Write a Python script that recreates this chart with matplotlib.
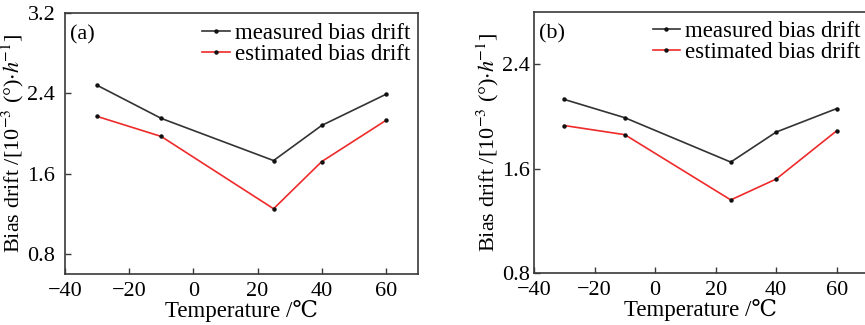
#!/usr/bin/env python3
"""
Bias drift vs temperature, measured and estimated, two panels (a) and (b).
"""

import matplotlib
matplotlib.use('Agg')
import matplotlib.pyplot as plt

plt.rcParams['font.family'] = ['Liberation Serif', 'DejaVu Serif']
plt.rcParams['mathtext.fontset'] = 'stix'

temperature = [-30, -10, 25, 40, 60]

measured_a = [2.48, 2.15, 1.73, 2.08, 2.39]
estimated_a = [2.17, 1.97, 1.25, 1.72, 2.13]

measured_b = [2.13, 1.99, 1.65, 1.88, 2.06]
estimated_b = [1.93, 1.86, 1.36, 1.52, 1.89]

xticks = [-40, -20, 0, 20, 40, 60]
yticks_a = [0.8, 1.6, 2.4, 3.2]
yticks_b = [0.8, 1.6, 2.4]

W, H = 865, 325
fig = plt.figure(figsize=(W / 100, H / 100), dpi=100)

# axes boxes in pixels: left, bottom(from top), width, height
ax_a = fig.add_axes([65 / W, (H - 274) / H, 353 / W, 261 / H])
ax_b = fig.add_axes([534 / W, (H - 273) / H, 333 / W, 261 / H])

ylabel = r'Bias drift /[10$^{-3}$ (°)$\cdot\mathbf{\mathit{h}}^{-1}$]'
spine_col = '#3a3a3a'

# tag, y pad, legend anchor (axes fraction)
panels = [
    (ax_a, measured_a, estimated_a, yticks_a, (0.6, 3.2), '(a)', 7, (0.977, 0.961)),
    (ax_b, measured_b, estimated_b, yticks_b, (0.8, 2.8), '(b)', 3, (0.979, 0.966)),
]

for ax, meas, est, yt, ylim, tag, ypad, anchor in panels:
    ax.plot(temperature, meas, '-', color='#333333', lw=1.2,
            marker='o', ms=2.2, mfc='#111111', mec='#111111',
            label='measured bias drift')
    ax.plot(temperature, est, '-', color='#ee2a2a', lw=1.2,
            marker='o', ms=2.2, mfc='#111111', mec='#111111',
            label='estimated bias drift')
    ax.set_xlim(-40, 70)
    ax.set_ylim(*ylim)
    ax.set_xticks(xticks)
    ax.set_xticklabels([f'\u2212{abs(v)}' if v < 0 else str(v) for v in xticks])
    ax.set_yticks(yt)
    ax.set_yticklabels([f'{v:.1f}' for v in yt])
    ax.tick_params(direction='in', length=4, width=1, color=spine_col,
                   labelsize=16, top=False, right=False)
    ax.tick_params(axis='y', pad=ypad)
    ax.tick_params(axis='x', pad=6)
    for s in ax.spines.values():
        s.set_color(spine_col)
        s.set_linewidth(1.2)
    ax.set_xlabel('Temperature /\u2103', fontsize=16.5, labelpad=-1)
    ax.set_ylabel(ylabel, fontsize=16, labelpad=1)
    ax.text(0.015, 0.955, tag, transform=ax.transAxes, fontsize=16,
            ha='left', va='top')
    ax.legend(loc='upper right', bbox_to_anchor=anchor, frameon=False,
              fontsize=16.5, handlelength=1.2, handletextpad=0.2,
              labelspacing=0.0, borderaxespad=0.0, borderpad=0.0)

plt.savefig('out.png', dpi=100)
